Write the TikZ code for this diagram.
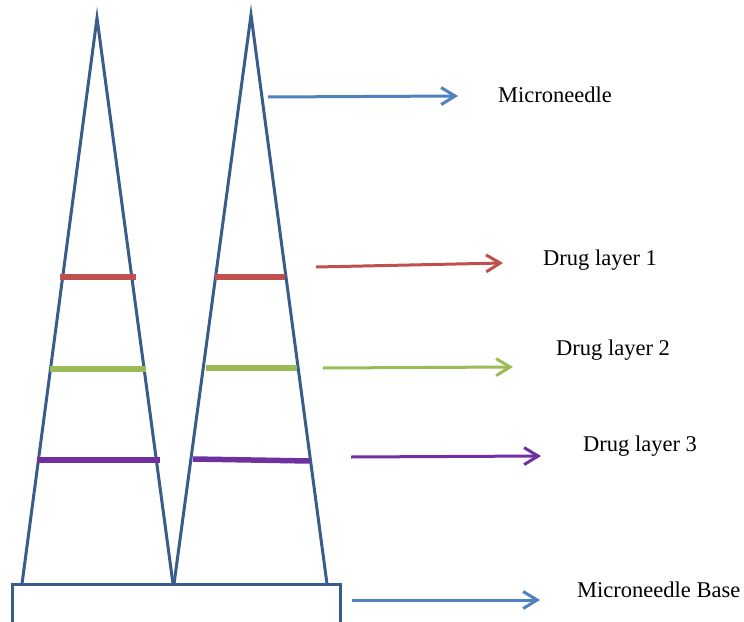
\documentclass[tikz,border=0pt]{standalone}
\usepackage{fontspec}
\setmainfont{Liberation Serif}
\usetikzlibrary{arrows.meta}
\definecolor{needleblue}{HTML}{385D8A}
\definecolor{arrowblue}{HTML}{4F81BD}
\definecolor{layerred}{HTML}{C0504D}
\definecolor{layergreen}{HTML}{9BBB59}
\definecolor{layerpurple}{HTML}{7030A0}
\tikzset{
  needle/.style={draw=needleblue, line width=3pt, line join=miter},
  layer/.style={line width=5.5pt},
  pointer/.style={line width=3pt, -{Straight Barb[length=14pt, width=17pt, line width=3pt]}},
  label/.style={anchor=base west, inner sep=0pt, font=\fontsize{22.5}{26}\selectfont}
}
\begin{document}
\begin{tikzpicture}[x=1pt, y=-1pt]
  \clip (0,0) rectangle (744,621);
  \fill[white] (0,0) rectangle (744,621);

  % base plate (continues below the lower edge)
  \draw[needle] (12,584) rectangle (340,640);

  % two needles
  \draw[needle] (22,584) -- (97,18) -- (173,584);
  \draw[needle] (174,584) -- (251,15) -- (327,584);

  % drug layers inside the needles
  \draw[layer, layerred] (60,277) -- (136,277);
  \draw[layer, layerred] (215,277) -- (285,277);
  \draw[layer, layergreen] (50,369) -- (146,369);
  \draw[layer, layergreen] (206,368) -- (297,368);
  \draw[layer, layerpurple] (37,460) -- (160,460);
  \draw[layer, layerpurple] (193,459) -- (310,461);

  % labels
  \node[label] (lneedle) at (498,102) {Microneedle};
  \node[label] (lone)    at (543,265) {Drug layer 1};
  \node[label] (ltwo)    at (556,355) {Drug layer 2};
  \node[label] (lthree)  at (583,451) {Drug layer 3};
  \node[label] (lbase)   at (577,597) {Microneedle Base};

  % pointer arrows
  \coordinate (s0) at (268,97);  \coordinate (e0) at (458,96);
  \coordinate (s1) at (316,267); \coordinate (e1) at (503,263);
  \coordinate (s2) at (323,368); \coordinate (e2) at (513,367);
  \coordinate (s3) at (351,457); \coordinate (e3) at (541,456);
  \coordinate (s4) at (352,600); \coordinate (e4) at (540,600);

  \draw[pointer, arrowblue]   (s0) -- (e0);
  \draw[pointer, layerred]    (s1) -- (e1);
  \draw[pointer, layergreen]  (s2) -- (e2);
  \draw[pointer, layerpurple] (s3) -- (e3);
  \draw[pointer, arrowblue]   (s4) -- (e4);
\end{tikzpicture}
\end{document}
